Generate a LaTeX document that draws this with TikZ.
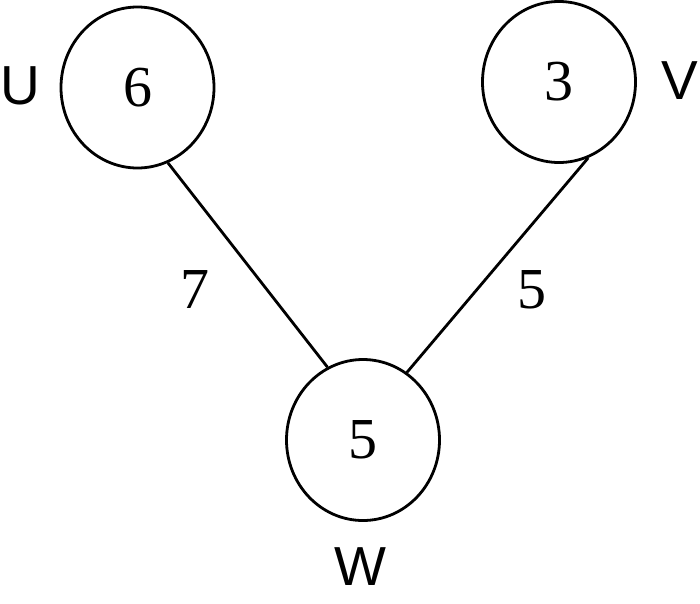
\documentclass[tikz,border=0pt]{standalone}
\usepackage{fontspec}
\setmainfont{Liberation Serif}
\newfontfamily\labfont{Liberation Sans}
\usetikzlibrary{shapes.geometric}
\tikzset{
  vert/.style={draw, ellipse, line width=2.8pt, minimum width=153pt, minimum height=161pt, inner sep=0pt, font=\fontsize{58}{60}\selectfont},
  nlab/.style={font=\labfont\fontsize{55}{60}\selectfont, inner sep=0pt},
  elab/.style={font=\fontsize{58}{60}\selectfont, inner sep=0pt},
  edge/.style={line width=2.8pt}
}
\begin{document}
\begin{tikzpicture}[x=1pt,y=-1pt]
\useasboundingbox (0,0) rectangle (700,603);
\node[vert] (U) at (137.5,87.5) {6};
\node[vert] (V) at (559,82) {3};
\node[vert] (W) at (363,440) {5};
\node[nlab] (lu) at (20,86) {U};
\node[nlab] (lv) at (680,81) {V};
\node[nlab] (lw) at (360,567) {W};
\draw[edge] (U.-68.4) -- (W.116);
\draw[edge] (V.-69.6) -- (W.57);
\node[elab] (e1) at (195,290) {7};
\node[elab] (e2) at (532,290) {5};
\end{tikzpicture}
\end{document}
